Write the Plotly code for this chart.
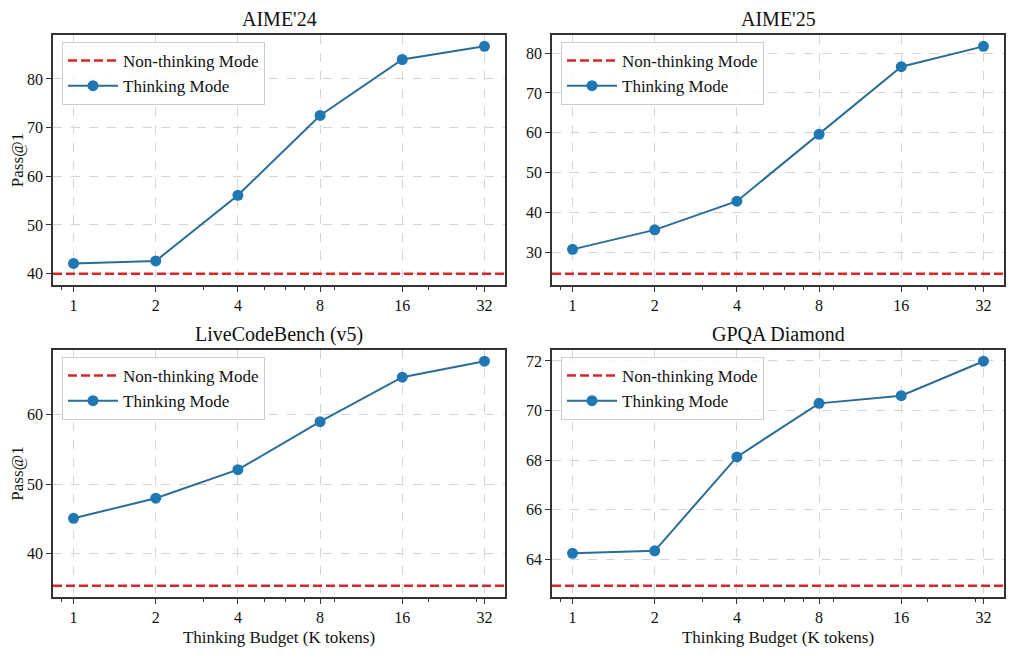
import math
import plotly.graph_objects as go
from plotly.subplots import make_subplots

budgets = [1, 2, 4, 8, 16, 32]
minor_budgets = [0.9, 3, 5, 6, 7, 9, 20, 30]
benchmarks = ["AIME'24", "AIME'25", "LiveCodeBench (v5)", "GPQA Diamond"]
thinking_aime24 = [42.1, 42.6, 56.1, 72.5, 84.0, 86.7]
thinking_aime25 = [30.7, 35.6, 42.8, 59.6, 76.6, 81.7]
thinking_lcb = [45.1, 48.0, 52.1, 59.0, 65.4, 67.7]
thinking_gpqa = [64.24, 64.34, 68.13, 70.29, 70.6, 71.99]
non_thinking = [40.0, 24.6, 35.4, 62.93]
y_dticks = [10, 10, 10, 2]

thinking = [thinking_aime24, thinking_aime25, thinking_lcb, thinking_gpqa]

FONT = "Liberation Serif"
BLUE = "#1f77b4"
BLUE_LINE = "#2a6d96"
RED = "#d62728"

fig = make_subplots(rows=2, cols=2, subplot_titles=benchmarks)

# page has an 8px body margin, so the figure is drawn 8px in from the window edge
OFF = 8
W, H = 1024 - OFF, 662 - OFF
# panel boxes in window pixels (left, right, top, bottom)
boxes = [(53, 505, 35, 285), (552, 1004, 35, 285),
         (53, 505, 350, 597), (552, 1004, 350, 597)]
title_y = [19, 19, 334, 334]
legends = ["legend", "legend2", "legend3", "legend4"]


def px(v):
    return (v - OFF) / W


def py(v):
    return 1 - (v - OFF) / H


for i in range(4):
    r, c = i // 2 + 1, i % 2 + 1
    lg = legends[i]
    fig.add_trace(go.Scatter(x=[None], y=[None], mode="lines", name="Non-thinking Mode",
                             line=dict(color=RED, width=2.5, dash="9px,4px"), legend=lg), r, c)
    fig.add_trace(go.Scatter(x=budgets, y=thinking[i], mode="lines+markers", name="Thinking Mode",
                             line=dict(color=BLUE_LINE, width=2),
                             marker=dict(color=BLUE, size=11), legend=lg), r, c)
    fig.add_hline(y=non_thinking[i], row=r, col=c,
                  line=dict(color=RED, width=2.5, dash="9px,4px"))

    lo = min(thinking[i] + [non_thinking[i]])
    hi = max(thinking[i] + [non_thinking[i]])
    pad = 0.05 * (hi - lo)
    L, R, T, B = boxes[i]
    fig.update_xaxes(type="log", range=[math.log10(2 ** -0.25), math.log10(2 ** 5.25)],
                     domain=[px(L), px(R)], tickvals=budgets, ticktext=[str(b) for b in budgets],
                     minor=dict(tickmode="array", tickvals=minor_budgets, ticks="outside",
                                ticklen=3.5, tickwidth=1, tickcolor="#333", showgrid=False),
                     row=r, col=c)
    fig.update_yaxes(range=[lo - pad, hi + pad], dtick=y_dticks[i],
                     domain=[py(B), py(T)], row=r, col=c)

    # legend box in each panel
    fig.update_layout({lg: dict(x=px(L + 9), y=py(T + 7), xanchor="left", yanchor="top",
                                bgcolor="rgba(255,255,255,0.85)", bordercolor="#cccccc",
                                borderwidth=1, font=dict(family=FONT, size=17, color="#111"),
                                tracegroupgap=0, itemwidth=50)})

fig.update_xaxes(showline=True, mirror=True, linecolor="#333", linewidth=1.5,
                 ticks="outside", ticklen=5, tickcolor="#333",
                 showgrid=True, gridcolor="#d5d5d5", griddash="dash", gridwidth=1,
                 tickfont=dict(family=FONT, size=16, color="#111"), zeroline=False)
fig.update_yaxes(showline=True, mirror=True, linecolor="#333", linewidth=1.5,
                 ticks="outside", ticklen=5, tickcolor="#333",
                 showgrid=True, gridcolor="#d5d5d5", griddash="dash", gridwidth=1,
                 tickfont=dict(family=FONT, size=16, color="#111"), zeroline=False)

for r in (1, 2):
    fig.update_yaxes(title=dict(text="Pass@1", font=dict(family=FONT, size=17, color="#111"),
                                standoff=6), row=r, col=1)
for c in (1, 2):
    fig.update_xaxes(title=dict(text="Thinking Budget (K tokens)",
                                font=dict(family=FONT, size=17, color="#111"), standoff=6),
                     row=2, col=c)

# subplot titles centred over each panel
for i, ann in enumerate(fig.layout.annotations):
    L, R, T, B = boxes[i]
    ann.update(x=px((L + R) / 2), y=py(title_y[i]), yanchor="middle", borderpad=0,
               font=dict(family=FONT, size=20, color="#111"))

fig.update_layout(width=W, height=H, margin=dict(l=0, r=0, t=0, b=0),
                  plot_bgcolor="white", paper_bgcolor="white",
                  font=dict(family=FONT, color="#111"))

fig.write_html("out.html")
